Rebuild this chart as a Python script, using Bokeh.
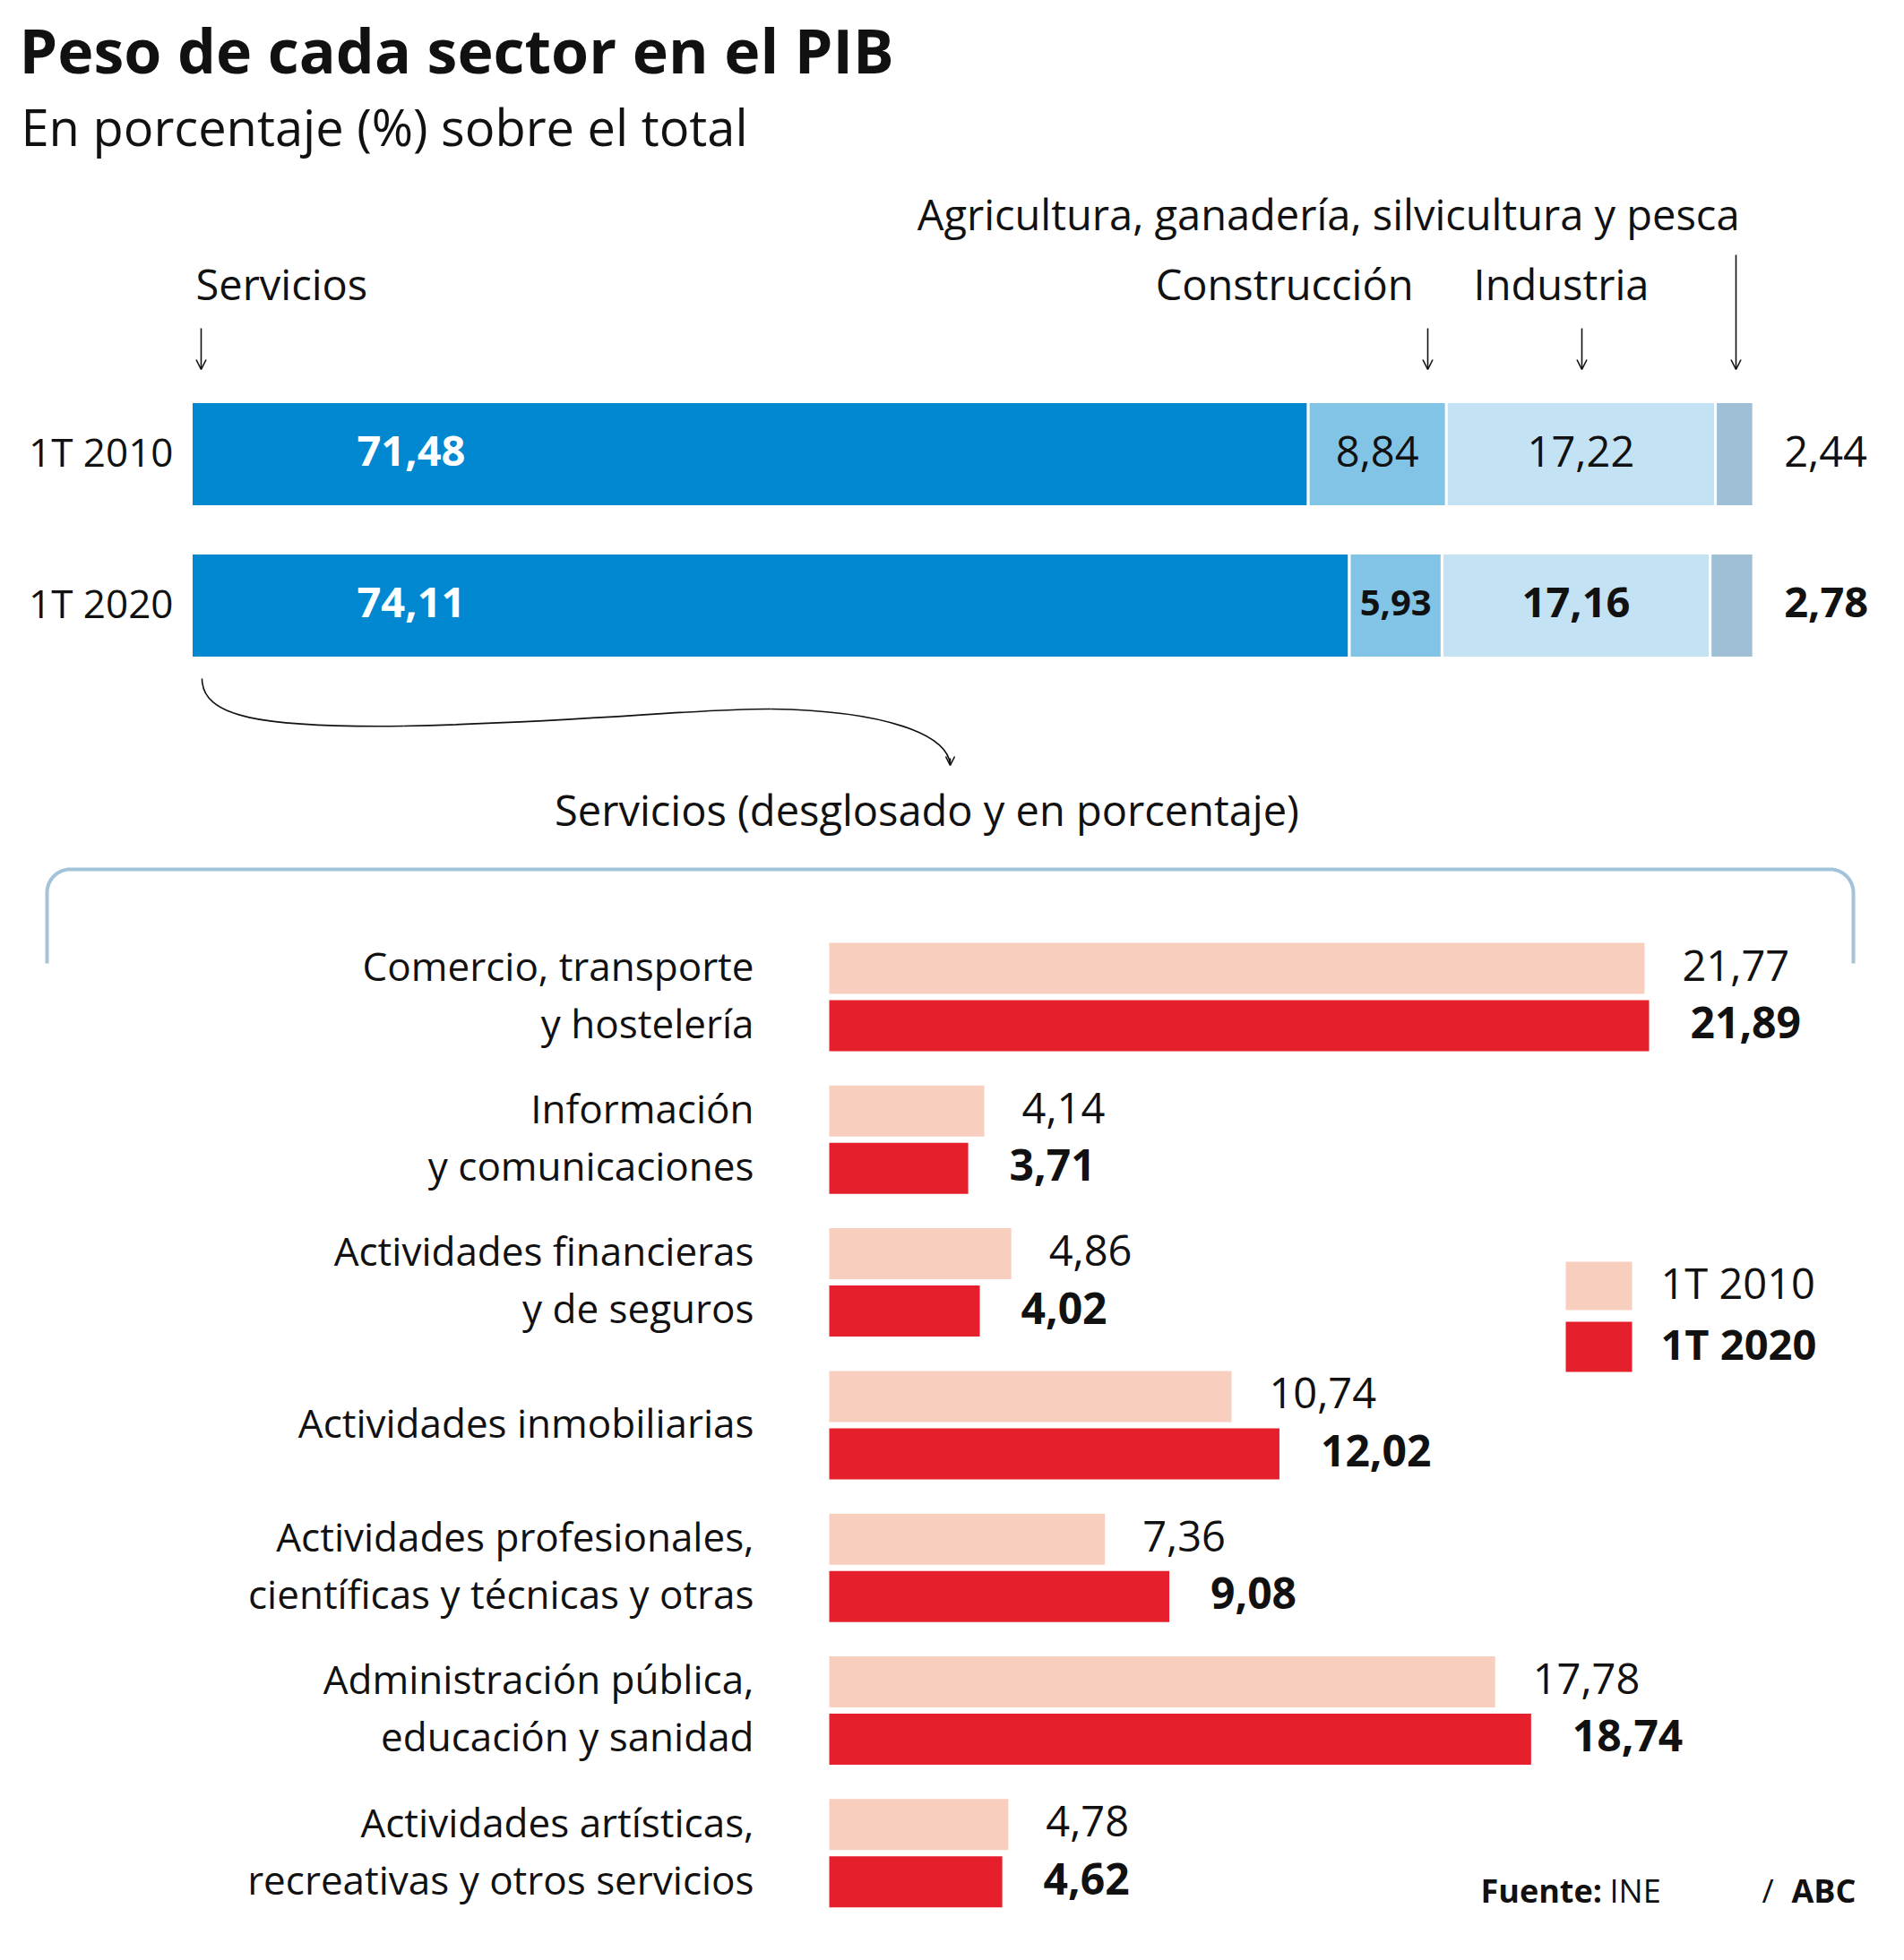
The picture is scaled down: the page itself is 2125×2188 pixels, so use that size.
from bokeh.plotting import figure
from bokeh.models import Range1d, Arrow, OpenHead
from bokeh.core.properties import value
from bokeh.embed import file_html
from bokeh.resources import INLINE
import numpy as np

W, H = 2125, 2188
FONT = "Open Sans"
CAP = 0.714
SHIFT = 0.43          # empirical correction of rendered baseline (fraction of size)
TXT = "#111111"

# ---------------- data ----------------
periods = ["1T 2010", "1T 2020"]
sector_names = ["Servicios", "Construcción", "Industria",
                "Agricultura, ganadería, silvicultura y pesca"]
servicios = [71.48, 74.11]
construccion = [8.84, 5.93]
industria = [17.22, 17.16]
agricultura = [2.44, 2.78]

serv_labels = [
    ["Comercio, transporte", "y hostelería"],
    ["Información", "y comunicaciones"],
    ["Actividades financieras", "y de seguros"],
    ["Actividades inmobiliarias"],
    ["Actividades profesionales,", "científicas y técnicas y otras"],
    ["Administración pública,", "educación y sanidad"],
    ["Actividades artísticas,", "recreativas y otros servicios"],
]
v2010 = [21.77, 4.14, 4.86, 10.74, 7.36, 17.78, 4.78]
v2020 = [21.89, 3.71, 4.02, 12.02, 9.08, 18.74, 4.62]

# ---------------- styling / layout ----------------
SEG_COLORS = ["#0288d1", "#82c4e6", "#c3e2f4", "#9ebfd6"]
C2010 = "#f8cebf"
C2020 = "#e51f2b"
BOX = "#a3c3da"

TOP_X0, TOP_PX = 213.0, 17.44     # pixel of 0 %, pixels per unit
BOT_X0, BOT_PX = 925.0, 41.8
TOP_Y = [506.5, 675.5]
TOP_H = 117
BOT_Y0, BOT_STEP, BOT_H, BOT_GAP = 1080.5, 159.3, 57, 64

def fmt(v):
    return f"{v:.2f}".replace(".", ",")

p = figure(width=W, height=H, x_range=Range1d(0, W), y_range=Range1d(H, 0),
           output_backend="svg", toolbar_location=None, min_border=0,
           x_axis_type=None, y_axis_type=None, title=None,
           outline_line_color=None, background_fill_color="white",
           border_fill_color="white")
p.extra_x_ranges = {
    "top": Range1d(-TOP_X0 / TOP_PX, (W - TOP_X0) / TOP_PX),
    "bot": Range1d(-BOT_X0 / BOT_PX, (W - BOT_X0) / BOT_PX),
}


def txt(x, y, s, size, bold=False, align="left", color=TXT, rng="default",
        x_offset=0, center=False):
    xs = list(x) if isinstance(x, (list, tuple, np.ndarray)) else [x]
    ys = list(y) if isinstance(y, (list, tuple, np.ndarray)) else [y]
    ss = list(s) if isinstance(s, (list, tuple)) else [s]
    if center:
        ys = [yy + CAP * size / 2 for yy in ys]
    ys = [yy - SHIFT * size for yy in ys]
    p.text(x=xs, y=ys, text=ss, text_font=value(FONT),
           text_font_size=f"{size}px",
           text_font_style="bold" if bold else "normal",
           text_align=align, text_baseline="alphabetic", text_color=color,
           x_offset=x_offset, x_range_name=rng)


# ---------------- titles ----------------
txt(21, 84, "Peso de cada sector en el PIB", 68, bold=True)
txt(23, 165, "En porcentaje (%) sobre el total", 56)

# ---------------- top stacked bars ----------------
stack = np.array([servicios, construccion, industria, agricultura])  # 4 x 2
right = np.cumsum(stack, axis=0)
left = right - stack
for k in range(4):
    p.hbar(y=TOP_Y, left=left[k], right=right[k], height=TOP_H,
           fill_color=SEG_COLORS[k], line_color="white", line_width=3,
           x_range_name="top")

txt([0], [TOP_Y[0]], [fmt(servicios[0])], 47, bold=True, color="white",
    rng="top", x_offset=185, center=True)
txt([0], [TOP_Y[1]], [fmt(servicios[1])], 47, bold=True, color="white",
    rng="top", x_offset=185, center=True)
mid_c = (left[1] + right[1]) / 2
mid_i = (left[2] + right[2]) / 2
txt([mid_c[0]], [TOP_Y[0]], [fmt(construccion[0])], 47, align="center", rng="top", center=True)
txt([mid_c[1]], [TOP_Y[1]], [fmt(construccion[1])], 40, bold=True, align="center", rng="top", center=True)
txt([mid_i[0]], [TOP_Y[0]], [fmt(industria[0])], 47, align="center", rng="top", center=True)
txt([mid_i[1]], [TOP_Y[1]], [fmt(industria[1])], 47, bold=True, align="center", rng="top", center=True)
txt([right[3][0]], [TOP_Y[0]], [fmt(agricultura[0])], 47, rng="top", x_offset=34, center=True)
txt([right[3][1]], [TOP_Y[1]], [fmt(agricultura[1])], 47, bold=True, rng="top", x_offset=34, center=True)

txt([193, 193], TOP_Y, periods, 44, align="right", center=True)

# sector headers and arrows
txt(218, 337, sector_names[0], 47)
txt(1577, 337, sector_names[1], 47, align="right")
txt(1644, 337, sector_names[2], 47)
txt(1941, 259, sector_names[3], 47, align="right")

for ax, ay0 in [(224, 366), (1593, 366), (1765, 366), (1937, 284)]:
    p.add_layout(Arrow(end=OpenHead(size=11, line_width=1.6, line_color="#111111"),
                       x_start=ax, y_start=ay0, x_end=ax, y_end=412,
                       line_width=1.6, line_color="#111111"))

# curved connector
p.bezier(x0=[225, 450, 860], y0=[757, 810, 791],
         x1=[450, 860, 1060], y1=[810, 791, 853],
         cx0=[225, 650, 990], cy0=[800, 806, 793],
         cx1=[290, 780, 1057], cy1=[812, 790, 820],
         line_color="#111111", line_width=1.6)
p.add_layout(Arrow(end=OpenHead(size=10, line_width=1.6, line_color="#111111"),
                   x_start=1060, y_start=846, x_end=1060, y_end=854,
                   line_width=1.6, line_color="#111111"))

txt(1034, 924, "Servicios (desglosado y en porcentaje)", 47, align="center")

# bracket box
r = 26
L, R, T, B = 52, 2068, 970, 1075
th1 = np.linspace(np.pi, 1.5 * np.pi, 20)
th2 = np.linspace(1.5 * np.pi, 2 * np.pi, 20)
bx = [L] + list(L + r + r * np.cos(th1)) + list(R - r + r * np.cos(th2)) + [R]
by = [B] + list(T + r + r * np.sin(th1)) + list(T + r + r * np.sin(th2)) + [B]
p.line(bx, by, line_color=BOX, line_width=4)

# ---------------- bottom grouped bars ----------------
n = len(v2010)
yl = [BOT_Y0 + i * BOT_STEP for i in range(n)]
yr = [y + BOT_GAP for y in yl]
p.hbar(y=yl, left=0, right=v2010, height=BOT_H, fill_color=C2010,
       line_color=None, x_range_name="bot")
p.hbar(y=yr, left=0, right=v2020, height=BOT_H, fill_color=C2020,
       line_color=None, x_range_name="bot")
txt(v2010, yl, [fmt(v) for v in v2010], 47, rng="bot", x_offset=42, center=True)
txt(v2020, yr, [fmt(v) for v in v2020], 48, bold=True, rng="bot", x_offset=46, center=True)

lab_x, lab_y, lab_s = [], [], []
for i, lines in enumerate(serv_labels):
    if len(lines) == 2:
        lab_x += [841, 841]
        lab_y += [yl[i], yr[i]]
        lab_s += lines
    else:
        lab_x.append(841)
        lab_y.append((yl[i] + yr[i]) / 2)
        lab_s += lines
txt(lab_x, lab_y, lab_s, 44, align="right", center=True)

# legend
p.rect(x=[1784, 1784], y=[1435, 1503], width=74, height=[54, 56],
       fill_color=[C2010, C2020], line_color=None)
txt(1853, 1435, periods[0], 47, center=True)
txt(1853, 1503, periods[1], 47, bold=True, center=True)

# source
txt(1652, 2125, "Fuente:", 36, bold=True)
txt(1796, 2125, "INE", 36)
txt(1966, 2125, "/", 36)
txt(1999, 2125, "ABC", 36, bold=True)

open("out.html", "w").write(file_html(p, INLINE))
